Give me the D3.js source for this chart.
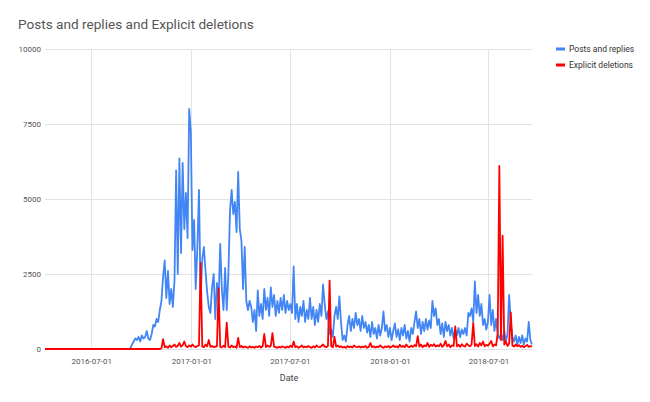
<!DOCTYPE html>
<html><head><meta charset="utf-8">
<script src="https://cdn.jsdelivr.net/npm/d3@7/dist/d3.min.js"></script>
<style>body{margin:0;background:#fff;}svg{font-family:Roboto,Arial,sans-serif;}</style>
</head><body><svg id="c" width="650" height="402"></svg>
<script>
const title = "Posts and replies and Explicit deletions";
const seriesNames = ["Posts and replies", "Explicit deletions"];
const xTickLabels = ["2016-07-01", "2017-01-01", "2017-07-01", "2018-01-01", "2018-07-01"];
const yTickValues = [0, 2500, 5000, 7500, 10000];
const domainStart = "2016-04-07", domainEnd = "2018-09-19";
const leadDates = ["2016-04-07", "2016-09-08"];
const leadPosts = [0, 0];
const leadDeletions = [0, 0];
const gridStart = "2016-09-11", stepDays = 3;
const posts = [
30,150,250,350,300,400,250,450,350,400,
600,350,300,500,800,750,1000,900,1300,1600,
2400,2950,1700,2600,1500,2000,1400,2300,5950,2500,
6350,3200,6200,4000,5200,3700,8000,7250,3300,4300,
2000,3400,5300,1650,3000,3400,2600,1900,1400,1200,
2050,2500,1000,2200,1600,3500,2000,1300,2700,1300,
2500,4600,5300,4500,4900,3900,5900,4000,3600,2000,
3400,1600,1300,1600,1400,900,1300,600,1950,1100,
1500,1000,2000,1300,1700,1100,2050,1400,1800,1100,
1600,1200,1700,1300,1800,1200,1600,1300,1500,1200,
2750,1000,1500,900,1400,1100,1600,900,1300,1000,
1700,1000,1400,800,1300,900,1500,1100,2150,1500,
1000,1250,500,650,400,1100,1400,1000,1750,900,
300,450,250,800,1100,600,1000,700,1200,800,
1000,600,1100,700,900,550,800,400,900,500,
700,350,800,450,700,1250,600,800,400,700,
300,600,850,400,650,300,700,450,800,350,
600,250,700,500,900,1250,700,1000,500,900,
600,1000,650,950,700,1600,1100,1350,800,1000,
500,850,400,900,600,800,450,700,350,650,
450,700,400,650,500,700,450,1200,1100,1350,
900,2250,1200,1800,1100,1500,800,1000,650,900,
1800,800,1300,600,1000,500,350,500,300,600,
250,500,1800,900,400,250,450,150,400,200,
450,150,350,250,900,300,150
];
const deletions = [
0,0,0,0,0,0,0,0,0,0,
0,0,0,0,0,0,0,0,0,20,
330,60,90,40,120,60,100,150,70,110,
200,80,130,250,90,60,120,80,150,90,
60,100,120,2870,80,60,150,90,300,70,
100,60,80,90,2030,70,50,110,60,880,
80,50,120,60,90,40,370,60,100,50,
80,60,40,90,50,70,40,80,60,100,
50,90,500,60,120,70,100,530,80,60,
40,70,50,90,60,40,80,50,110,60,
250,60,90,40,70,120,50,80,60,100,
60,40,90,50,120,70,60,100,150,80,
60,100,2280,90,60,400,80,120,60,90,
50,70,40,100,60,80,50,120,70,60,
90,50,80,60,100,40,70,200,60,90,
50,80,60,120,70,40,90,60,100,50,
70,120,60,90,50,140,70,100,60,150,
80,60,110,70,130,90,430,80,150,60,
120,90,200,70,140,100,160,80,120,90,
180,70,130,270,90,150,60,120,100,750,
90,140,70,160,100,80,180,120,90,150,
870,100,160,80,200,120,250,90,140,110,
180,270,90,150,120,530,6100,300,3780,150,
250,100,180,1220,120,80,150,90,130,70,
110,60,90,140,70,100,80
];
const colors = ["#4285F4", "#FF0000"];

const parse = d3.utcParse("%Y-%m-%d");
const g0 = parse(gridStart);
const n = Math.min(posts.length, deletions.length);
function build(lead, vals) {
  const pts = leadDates.map((d, i) => ({date: parse(d), v: lead[i]}));
  for (let i = 0; i < n; i++) pts.push({date: d3.utcDay.offset(g0, i * stepDays), v: vals[i]});
  return pts;
}
const data = [build(leadPosts, posts), build(leadDeletions, deletions)];

const svg = d3.select("#c");
const L = 45, R = 532, T = 49, B = 349;
const x = d3.scaleUtc().domain([parse(domainStart), parse(domainEnd)]).range([L, R]);
const y = d3.scaleLinear().domain([0, 10000]).range([B, T]);

svg.append("text").attr("x", 18).attr("y", 29).attr("font-size", 13.6).attr("fill", "#555").text(title);

// gridlines
svg.append("g").selectAll("line").data(yTickValues).join("line")
  .attr("x1", L).attr("x2", R).attr("y1", d => y(d) + 0.5).attr("y2", d => y(d) + 0.5)
  .attr("stroke", "#e3e3e3");
svg.append("g").selectAll("line").data(xTickLabels).join("line")
  .attr("x1", d => Math.round(x(parse(d))) + 0.5).attr("x2", d => Math.round(x(parse(d))) + 0.5)
  .attr("y1", T).attr("y2", B).attr("stroke", "#e3e3e3");

// axes
const yAxis = d3.axisLeft(y).tickValues(yTickValues).tickFormat(d3.format("d")).tickSize(0).tickPadding(4);
const ya = svg.append("g").attr("transform", `translate(${L},0)`).call(yAxis);
ya.select(".domain").remove();
ya.selectAll("text").attr("font-size", 8).attr("fill", "#555").attr("font-family", "Roboto,Arial,sans-serif").attr("dy", "0.35em");

const xAxis = d3.axisBottom(x).tickValues(xTickLabels.map(parse)).tickFormat(d3.utcFormat("%Y-%m-%d")).tickSize(0).tickPadding(9);
const xa = svg.append("g").attr("transform", `translate(0,${B})`).call(xAxis);
xa.select(".domain").remove();
xa.selectAll("text").attr("font-size", 8).attr("fill", "#555").attr("font-family", "Roboto,Arial,sans-serif");

svg.append("text").attr("x", 289).attr("y", 381).attr("text-anchor", "middle")
  .attr("font-size", 9).attr("fill", "#444").text("Date");

// lines
const line = d3.line().x(d => x(d.date)).y(d => y(d.v));
svg.append("clipPath").attr("id", "clip").append("rect").attr("x", L).attr("y", T - 5).attr("width", R - L + 1).attr("height", B - T + 7);
const lg = svg.append("g").attr("clip-path", "url(#clip)");
data.forEach((s, i) => {
  lg.append("path").datum(s).attr("d", line).attr("fill", "none")
    .attr("stroke", colors[i]).attr("stroke-width", 1.8).attr("stroke-linejoin", "round");
});

// legend
const leg = svg.append("g").selectAll("g").data(seriesNames).join("g")
  .attr("transform", (d, i) => `translate(556,${49 + i * 16})`);
leg.append("rect").attr("x", 0).attr("y", -1.5).attr("width", 9).attr("height", 3).attr("fill", (d, i) => colors[i]);
leg.append("text").attr("x", 13).attr("y", 0).attr("dy", "0.35em").attr("font-size", 8.5).attr("fill", "#333").text(d => d);
</script></body></html>
